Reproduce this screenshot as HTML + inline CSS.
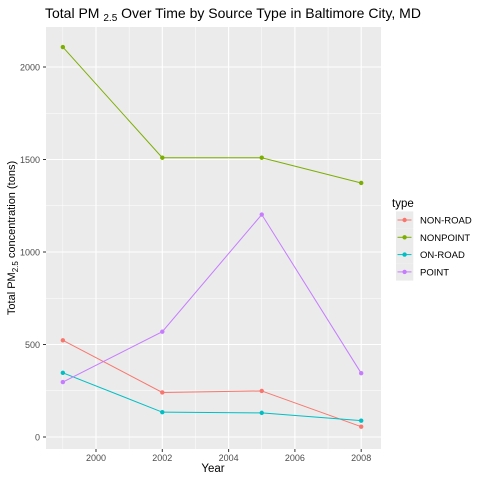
<!DOCTYPE html>
<html><head><style>body{margin:0;background:#fff}svg{display:block;font-family:"Liberation Sans",sans-serif}</style></head><body>
<svg id="c" width="480" height="480">
<rect width="480" height="480" fill="#fff"/>
<text x="45" y="18" font-size="14" fill="#000">Total PM <tspan font-size="10" dy="3">2.5</tspan><tspan dy="-3"> Over Time by Source Type in Baltimore City, MD</tspan></text>
<rect x="46" y="27" width="335" height="422" fill="#ebebeb"/>
<g id="grid"></g><g id="series"></g><g id="axes"></g>
<text x="213" y="472" font-size="11.5" text-anchor="middle">Year</text>
<text transform="translate(15,238) rotate(-90)" font-size="11" text-anchor="middle">Total PM<tspan font-size="8" dy="3">2.5</tspan><tspan dy="-3"> concentration (tons)</tspan></text>
<text x="392" y="207" font-size="11.5">type</text>
<g id="legend"></g>
</svg>
<script>
const years=[1999,2002,2005,2008];
const types=["NON-ROAD","NONPOINT","ON-ROAD","POINT"];
const nonRoad=[522.9,240.8,248.9,55.8];
const nonPoint=[2107.9,1509.5,1509.5,1373.2];
const onRoad=[346.8,134.3,130.4,88.3];
const point=[296.8,569.3,1202.5,344.9];
const xTicks=[2000,2002,2004,2006,2008];
const yTicks=[0,500,1000,1500,2000];
const colors=["#F8766D","#7CAE00","#00BFC4","#C77CFF"];
const series=[nonRoad,nonPoint,onRoad,point];
const NS="http://www.w3.org/2000/svg";
const X=v=>96+(v-2000)*33.15;
const Y=v=>437-v*0.185;
function mk(tag,attrs,parent){const e=document.createElementNS(NS,tag);for(const k in attrs)e.setAttribute(k,attrs[k]);parent.appendChild(e);return e;}
const grid=document.getElementById('grid'),axes=document.getElementById('axes');
for(let i=0;i<yTicks.length;i++){const t=yTicks[i];
 if(i<yTicks.length-1){const m=mk('line',{x1:46,x2:381,y1:Y(t+250),y2:Y(t+250),stroke:'#fff','stroke-width':0.5},grid);}
 const g=mk('line',{x1:46,x2:381,y1:Y(t),y2:Y(t),stroke:'#fff','stroke-width':1.1},grid);
 mk('line',{x1:43,x2:46,y1:Y(t),y2:Y(t),stroke:'#333'},axes);
 const l=mk('text',{x:40,y:Y(t)+3.5,'font-size':9,fill:'#4d4d4d','text-anchor':'end'},axes);l.textContent=t;}
for(const t of [1999,2001,2003,2005,2007]){const m=mk('line',{x1:X(t),x2:X(t),y1:27,y2:449,stroke:'#fff','stroke-width':0.5},grid);}
for(const t of xTicks){const g=mk('line',{x1:X(t),x2:X(t),y1:27,y2:449,stroke:'#fff','stroke-width':1.1},grid);
 mk('line',{x1:X(t),x2:X(t),y1:449,y2:452,stroke:'#333'},axes);
 const l=mk('text',{x:X(t),y:461,'font-size':9,fill:'#4d4d4d','text-anchor':'middle'},axes);l.textContent=t;}
const sg=document.getElementById('series'),lg=document.getElementById('legend');
series.forEach((s,i)=>{
 const p=mk('polyline',{points:s.map((v,j)=>X(years[j])+','+Y(v)).join(' '),fill:'none',stroke:colors[i],'stroke-width':1},sg);
 
 s.forEach((v,j)=>{const c=mk('circle',{cx:X(years[j]),cy:Y(v),r:2.2,fill:colors[i]},sg);});
 const y=220+i*17.3;
 const k=mk('rect',{x:396,y:y-8.6,width:17.3,height:17.3,fill:'#ebebeb'},lg);
 mk('line',{x1:397.5,x2:411.5,y1:y,y2:y,stroke:colors[i]},lg);
 mk('circle',{cx:404.6,cy:y,r:2.2,fill:colors[i]},lg);
 const t=mk('text',{x:420,y:y+3.5,'font-size':9.5,fill:'#000'},lg);t.textContent=types[i];
});
</script>
</body></html>
